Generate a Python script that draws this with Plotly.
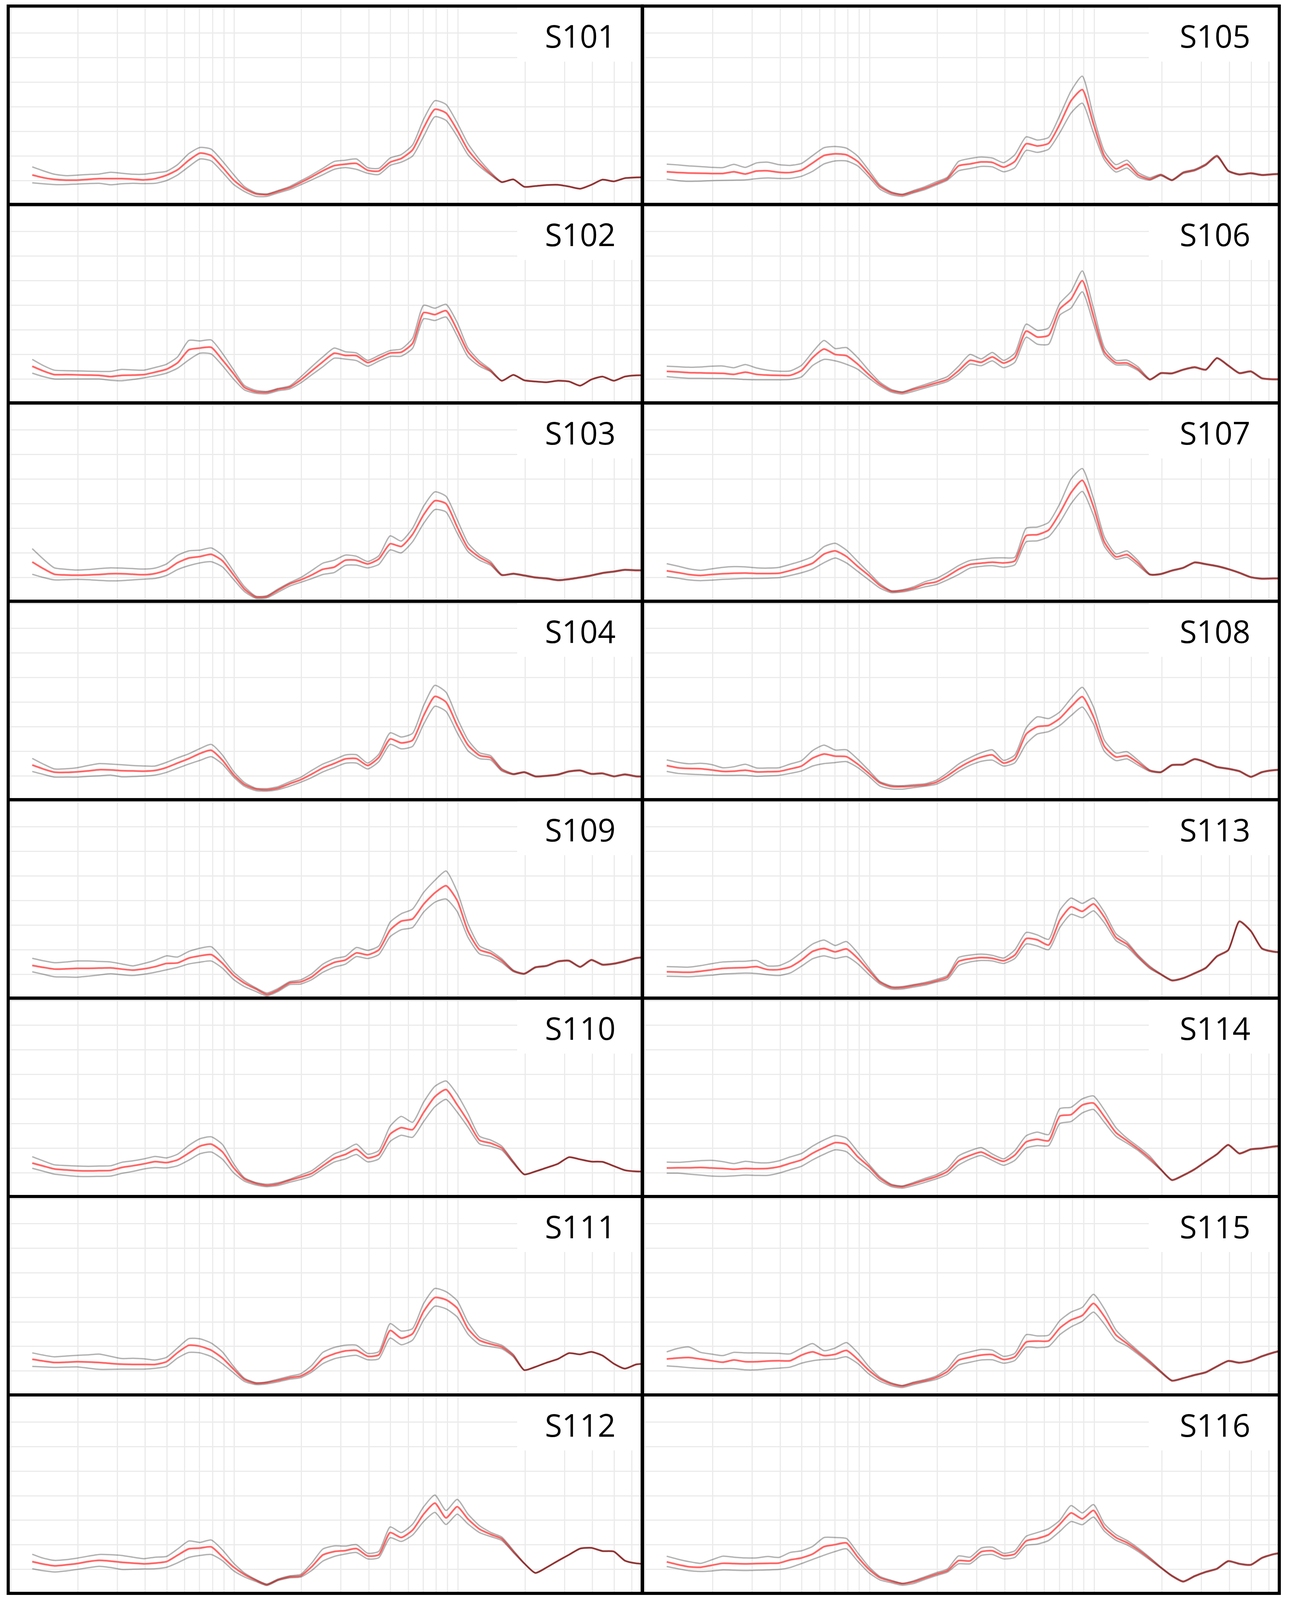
import plotly.graph_objects as go

# ---------------- data ----------------
FREQ_HZ = [1.25, 1.40, 1.57, 1.77, 1.98, 2.22, 2.49, 2.80, 3.14, 3.52,
           3.95, 4.43, 4.98, 5.58, 6.27, 7.03, 7.89, 8.85, 9.93, 11.1,
           12.5, 14.0, 15.7, 17.7, 19.8, 22.2, 24.9, 28.0, 31.4, 35.2,
           39.5, 44.3, 49.8, 55.8, 62.7, 70.3, 78.9, 88.5, 99.3, 111,
           125, 140, 157, 177, 198, 222, 249, 280, 314, 352,
           395, 443, 498, 558, 627, 703]

LEFT_COLUMN = ["S101", "S102", "S103", "S104", "S109", "S110", "S111", "S112"]
RIGHT_COLUMN = ["S105", "S106", "S107", "S108", "S113", "S114", "S115", "S116"]

S101_MEAN = [12.3, 11.2, 10.5, 10.2, 10.2, 10.5, 10.8, 10.8, 10.8, 10.6,
             10.3, 10.8, 12.2, 14.4, 18.3, 21.2, 20.2, 15.5, 10.3, 6.8,
             4.6, 4.3, 5.6, 7.1, 9.2, 11.5, 14.0, 16.1, 16.7, 17.0,
             14.2, 13.9, 17.5, 19.0, 22.5, 31.5, 39.0, 37.5, 30.5, 22.5,
             17.0, 12.8, 9.4, 10.5, 7.5, 7.8, 8.2, 8.3, 7.6, 6.7,
             8.3, 10.4, 9.7, 11.0, 11.3, 11.4]
S101_UPPER = [15.6, 14.0, 12.6, 12.0, 12.2, 12.5, 12.7, 13.4, 13.0, 12.6,
              12.6, 13.2, 13.8, 16.5, 21.0, 23.5, 22.8, 18.0, 12.5, 7.6,
              5.0, 4.6, 6.0, 7.6, 9.9, 12.3, 15.0, 17.8, 18.3, 18.8,
              15.3, 15.0, 19.2, 20.6, 24.5, 35.0, 42.5, 41.0, 33.5, 25.0,
              18.5, 13.5, 9.5, 10.6, 7.6, 7.9, 8.3, 8.4, 7.7, 6.8,
              8.4, 10.5, 9.8, 11.1, 11.4, 11.5]
S101_LOWER = [9.1, 8.7, 8.4, 8.4, 8.6, 8.8, 8.9, 8.3, 8.7, 8.9,
              8.8, 8.9, 10.0, 12.3, 15.7, 18.8, 18.0, 13.5, 8.5, 5.6,
              3.6, 3.6, 5.0, 6.4, 8.3, 10.3, 12.4, 14.6, 15.3, 14.6,
              13.0, 12.5, 16.2, 17.5, 20.0, 28.0, 36.0, 34.5, 28.0, 20.5,
              15.8, 12.3, 9.3, 10.4, 7.4, 7.7, 8.1, 8.2, 7.5, 6.6,
              8.2, 10.3, 9.6, 10.9, 11.2, 11.3]

S102_MEAN = [15.2, 13.3, 11.8, 11.8, 11.7, 11.6, 11.5, 11.0, 11.5, 11.6,
             11.8, 12.8, 14.0, 16.6, 21.9, 22.6, 22.9, 17.8, 12.2, 6.6,
             4.8, 4.6, 5.8, 6.7, 9.6, 13.3, 17.0, 20.5, 19.6, 19.5,
             16.7, 18.5, 20.6, 20.9, 24.5, 37.0, 36.2, 37.8, 30.0, 21.0,
             16.3, 13.4, 9.3, 11.7, 9.5, 9.0, 8.7, 9.3, 9.0, 7.3,
             9.8, 11.0, 9.3, 11.0, 11.5, 11.5]
S102_UPPER = [18.0, 15.5, 13.6, 13.4, 13.3, 13.2, 13.1, 13.1, 13.9, 13.7,
              13.6, 14.7, 16.0, 19.0, 25.7, 25.5, 25.9, 20.5, 13.8, 7.4,
              5.4, 5.0, 6.2, 7.2, 10.8, 15.0, 19.0, 22.6, 21.1, 20.6,
              17.6, 19.6, 21.6, 22.2, 26.6, 40.0, 38.8, 40.4, 33.0, 22.6,
              17.3, 13.9, 9.4, 11.8, 9.6, 9.1, 8.8, 9.4, 9.1, 7.4,
              9.9, 11.1, 9.4, 11.1, 11.6, 11.6]
S102_LOWER = [12.4, 11.0, 10.0, 10.0, 10.0, 10.0, 10.0, 9.5, 9.3, 9.8,
              10.5, 11.3, 12.4, 14.4, 17.8, 20.5, 20.2, 15.5, 10.0, 5.6,
              4.2, 4.0, 5.2, 6.0, 8.4, 11.7, 15.0, 18.5, 18.1, 17.5,
              15.2, 17.3, 19.2, 19.3, 22.5, 34.5, 33.8, 35.2, 27.5, 19.0,
              15.2, 13.0, 9.2, 11.6, 9.4, 8.9, 8.6, 9.2, 8.9, 7.2,
              9.7, 10.9, 9.2, 10.9, 11.4, 11.4]

S103_MEAN = [16.3, 13.6, 11.3, 11.0, 10.9, 11.0, 11.2, 11.5, 11.5, 11.3,
             11.1, 11.6, 13.0, 16.0, 17.9, 18.5, 19.4, 16.8, 11.0, 5.3,
             2.0, 2.2, 4.8, 7.4, 9.0, 11.0, 13.3, 14.2, 17.0, 17.0,
             15.5, 17.5, 23.7, 22.6, 27.5, 35.5, 41.2, 40.0, 30.5, 22.0,
             18.2, 15.7, 11.0, 11.5, 10.8, 10.0, 9.6, 8.9, 9.3, 10.0,
             10.8, 11.8, 12.4, 13.1, 12.9, 12.9]
S103_UPPER = [21.7, 17.5, 13.9, 13.3, 13.0, 13.2, 13.6, 13.9, 13.8, 13.6,
              13.4, 13.8, 15.5, 19.0, 20.8, 21.1, 22.0, 19.0, 12.5, 6.3,
              2.4, 2.6, 5.3, 7.9, 9.9, 12.8, 15.8, 17.0, 19.1, 18.6,
              16.5, 18.8, 26.9, 24.8, 30.0, 39.0, 44.8, 43.0, 33.5, 24.0,
              19.2, 16.5, 11.2, 11.7, 11.0, 10.2, 9.8, 9.1, 9.5, 10.2,
              11.0, 12.0, 12.6, 13.3, 13.1, 13.1]
S103_LOWER = [11.3, 10.0, 9.0, 9.1, 9.2, 9.1, 8.8, 8.6, 8.7, 9.0,
              9.3, 9.6, 10.8, 13.2, 14.8, 15.9, 16.4, 14.3, 9.2, 4.3,
              1.5, 1.7, 4.0, 6.5, 8.0, 9.5, 11.2, 12.0, 14.9, 15.0,
              13.9, 15.3, 21.2, 20.0, 24.5, 32.0, 37.6, 36.6, 28.0, 20.5,
              17.0, 15.0, 10.8, 11.3, 10.6, 9.8, 9.4, 8.7, 9.1, 9.8,
              10.6, 11.6, 12.2, 12.9, 12.7, 12.7]

S104_MEAN = [14.4, 12.8, 11.5, 11.4, 11.6, 12.0, 12.5, 12.4, 12.1, 12.0,
             11.9, 12.2, 13.4, 15.2, 17.0, 19.1, 20.4, 16.4, 10.5, 6.5,
             4.6, 4.3, 5.0, 6.8, 8.4, 10.7, 13.2, 15.0, 16.9, 17.0,
             14.2, 17.5, 25.0, 23.4, 24.5, 34.5, 42.3, 40.0, 30.5, 22.5,
             18.3, 17.4, 12.5, 10.7, 11.5, 9.8, 10.0, 10.5, 11.8, 12.2,
             10.8, 11.0, 9.8, 10.6, 9.8, 9.8]
S104_UPPER = [17.1, 14.8, 12.8, 12.9, 13.3, 14.2, 15.0, 14.8, 14.5, 14.2,
              14.0, 14.0, 15.5, 17.3, 19.0, 21.1, 22.8, 18.5, 11.8, 7.3,
              5.0, 4.8, 5.6, 7.6, 9.4, 12.2, 14.8, 16.6, 18.5, 18.6,
              15.2, 18.8, 27.5, 25.8, 27.3, 38.6, 46.8, 44.0, 33.5, 24.6,
              19.4, 18.2, 13.0, 10.9, 11.7, 10.0, 10.2, 10.7, 12.0, 12.4,
              11.0, 11.2, 10.0, 10.8, 10.0, 10.0]
S104_LOWER = [11.8, 10.6, 9.5, 9.5, 9.5, 9.8, 10.0, 10.3, 9.6, 9.7,
              9.9, 10.3, 11.4, 13.1, 14.8, 16.3, 17.8, 14.8, 9.6, 5.8,
              4.0, 3.8, 4.4, 5.8, 7.4, 9.3, 11.6, 13.4, 15.1, 15.2,
              12.8, 15.8, 22.8, 21.0, 22.0, 31.0, 38.3, 36.2, 27.5, 20.2,
              17.0, 16.5, 12.0, 10.5, 11.3, 9.6, 9.8, 10.3, 11.6, 12.0,
              10.6, 10.8, 9.6, 10.4, 9.6, 9.6]

S109_MEAN = [13.6, 12.8, 12.1, 12.2, 12.4, 12.4, 12.5, 12.6, 12.1, 11.7,
             12.2, 13.1, 14.4, 14.6, 16.6, 17.5, 18.0, 14.5, 9.6, 6.4,
             4.0, 1.8, 3.6, 6.5, 6.9, 8.9, 12.5, 14.8, 15.8, 18.7,
             17.9, 19.9, 28.0, 31.6, 32.5, 38.5, 43.1, 46.0, 40.0, 27.5,
             20.0, 18.5, 15.6, 11.4, 10.2, 12.8, 13.4, 15.2, 15.5, 13.0,
             15.8, 13.9, 14.3, 15.3, 16.6, 16.9]
S109_UPPER = [16.5, 15.5, 14.7, 15.0, 15.4, 15.4, 15.2, 15.0, 14.2, 13.4,
              14.4, 15.7, 17.5, 17.0, 19.3, 20.6, 21.2, 16.6, 10.9, 7.3,
              4.5, 2.4, 4.2, 7.0, 7.7, 10.2, 14.1, 16.4, 17.3, 20.9,
              19.7, 21.5, 31.2, 34.6, 36.5, 43.3, 48.2, 52.0, 43.6, 30.5,
              21.5, 19.5, 16.3, 11.7, 10.4, 13.0, 13.6, 15.4, 15.7, 13.2,
              16.0, 14.1, 14.5, 15.5, 16.8, 17.1]
S109_LOWER = [11.0, 10.0, 9.0, 8.9, 8.8, 9.2, 9.7, 10.2, 9.8, 9.5,
              10.0, 10.8, 11.8, 12.8, 14.2, 14.9, 15.4, 12.5, 7.9, 5.0,
              3.0, 1.2, 3.0, 5.8, 6.0, 7.8, 10.8, 12.9, 14.1, 17.2,
              16.4, 18.0, 25.3, 28.1, 29.0, 35.3, 39.3, 40.6, 35.5, 25.0,
              18.3, 17.2, 14.8, 11.1, 10.0, 12.6, 13.2, 15.0, 15.3, 12.8,
              15.6, 13.7, 14.1, 15.1, 16.4, 16.7]

S110_MEAN = [13.9, 12.7, 11.5, 11.1, 10.8, 10.7, 10.8, 10.9, 12.1, 12.8,
             13.6, 14.5, 14.1, 15.2, 18.0, 20.8, 21.6, 18.5, 12.0, 7.5,
             5.6, 4.8, 5.4, 6.9, 8.2, 9.7, 12.8, 15.9, 17.4, 19.5,
             16.0, 17.4, 25.7, 28.3, 27.5, 34.5, 40.9, 43.8, 37.6, 30.9,
             23.2, 22.0, 20.0, 14.2, 9.3, 10.5, 12.0, 13.6, 16.3, 15.4,
             14.5, 14.4, 12.7, 11.0, 10.5, 10.5]
S110_UPPER = [16.5, 14.8, 13.2, 12.9, 12.7, 12.6, 12.7, 12.8, 14.2, 14.8,
              15.6, 16.6, 16.0, 17.5, 21.1, 23.8, 24.6, 21.5, 13.7, 8.0,
              6.0, 5.3, 5.9, 7.3, 9.0, 10.8, 14.2, 17.6, 19.3, 21.6,
              17.5, 19.0, 28.9, 32.9, 30.5, 38.7, 45.1, 47.3, 41.8, 34.0,
              24.8, 23.3, 20.8, 14.6, 9.4, 10.6, 12.1, 13.7, 16.4, 15.5,
              14.6, 14.5, 12.8, 11.1, 10.6, 10.6]
S110_LOWER = [11.8, 10.6, 9.4, 8.9, 8.5, 8.4, 8.5, 8.6, 9.7, 10.5,
              11.5, 12.1, 11.9, 12.8, 15.1, 17.7, 18.4, 15.5, 10.0, 6.6,
              5.0, 4.3, 4.8, 6.1, 7.2, 8.6, 11.6, 14.3, 15.6, 17.4,
              14.4, 15.6, 22.7, 25.2, 24.4, 30.8, 36.8, 39.8, 34.6, 28.5,
              21.7, 20.7, 19.2, 13.8, 9.2, 10.4, 11.9, 13.5, 16.2, 15.3,
              14.4, 14.3, 12.6, 10.9, 10.4, 10.4]

S111_MEAN = [14.8, 14.1, 13.5, 13.6, 13.8, 13.7, 13.5, 13.1, 12.8, 12.7,
             12.7, 12.7, 13.8, 17.5, 20.5, 20.1, 18.5, 15.3, 10.8, 6.6,
             5.0, 5.3, 6.2, 7.3, 8.0, 10.5, 15.0, 17.0, 18.2, 18.4,
             16.0, 16.6, 26.5, 23.4, 25.2, 34.3, 39.9, 39.0, 35.6, 27.2,
             22.5, 21.0, 19.8, 16.3, 10.4, 11.7, 13.4, 14.9, 17.3, 16.8,
             17.8, 16.3, 13.0, 11.0, 12.7, 13.0]
S111_UPPER = [17.4, 16.5, 15.8, 16.1, 16.4, 16.6, 16.9, 16.0, 15.1, 15.2,
              15.0, 14.5, 15.6, 19.4, 23.2, 23.1, 21.4, 17.8, 11.9, 7.1,
              5.3, 5.6, 6.7, 7.9, 8.9, 12.3, 17.6, 19.6, 20.5, 20.5,
              17.2, 17.9, 29.3, 26.3, 27.3, 37.5, 43.6, 42.3, 38.6, 29.8,
              23.7, 21.9, 20.5, 16.8, 10.5, 11.8, 13.5, 15.0, 17.4, 16.9,
              17.9, 16.4, 13.1, 11.1, 12.8, 13.1]
S111_LOWER = [11.9, 11.7, 11.5, 11.6, 11.7, 11.2, 10.7, 10.7, 10.8, 10.8,
              10.8, 11.1, 11.9, 15.3, 17.6, 17.4, 15.9, 13.0, 9.3, 5.8,
              4.5, 4.8, 5.6, 6.7, 7.3, 9.6, 13.0, 15.0, 15.9, 16.4,
              14.6, 15.0, 23.4, 20.7, 22.6, 30.8, 36.4, 35.3, 32.0, 25.0,
              20.8, 19.9, 19.1, 15.8, 10.3, 11.6, 13.3, 14.8, 17.2, 16.7,
              17.7, 16.2, 12.9, 10.9, 12.6, 12.9]

S112_MEAN = [13.2, 12.2, 11.5, 11.9, 12.4, 13.2, 13.7, 13.4, 12.9, 12.6,
             12.3, 12.6, 13.2, 15.8, 18.4, 18.7, 19.2, 15.2, 11.0, 8.0,
             5.6, 3.8, 5.8, 7.0, 7.4, 11.1, 15.9, 17.3, 17.7, 18.5,
             15.5, 16.0, 25.0, 23.0, 26.0, 32.5, 37.0, 31.0, 35.5, 30.5,
             26.4, 24.3, 22.5, 17.3, 12.5, 8.6, 10.8, 13.5, 16.0, 18.5,
             18.8, 17.5, 17.3, 13.6, 12.5, 12.2]
S112_UPPER = [16.2, 14.6, 13.7, 14.0, 14.6, 15.4, 16.1, 16.0, 15.7, 15.0,
              14.4, 15.0, 15.3, 18.3, 21.6, 21.0, 22.0, 18.0, 12.6, 8.6,
              5.9, 4.1, 6.1, 7.4, 8.0, 12.6, 18.3, 19.6, 19.5, 20.1,
              16.6, 17.4, 27.3, 25.0, 28.4, 35.5, 40.3, 34.0, 38.5, 32.5,
              27.8, 25.1, 23.2, 17.8, 12.6, 8.7, 10.9, 13.6, 16.1, 18.6,
              18.9, 17.6, 17.4, 13.7, 12.6, 12.3]
S112_LOWER = [10.3, 9.5, 9.0, 9.4, 10.0, 10.7, 11.3, 10.8, 10.0, 10.1,
              10.2, 10.3, 10.9, 12.7, 14.9, 15.7, 16.1, 13.6, 9.5, 7.0,
              5.1, 3.5, 5.5, 6.6, 6.9, 9.6, 13.4, 15.3, 16.3, 16.9,
              14.3, 14.8, 22.9, 21.4, 24.0, 29.5, 33.2, 28.3, 32.5, 28.5,
              25.0, 23.4, 21.8, 16.9, 12.4, 8.5, 10.7, 13.4, 15.9, 18.4,
              18.7, 17.4, 17.2, 13.5, 12.4, 12.1]

S105_MEAN = [13.6, 13.3, 13.1, 13.0, 12.9, 12.9, 13.6, 12.7, 13.9, 14.0,
             13.4, 13.3, 14.3, 17.2, 20.2, 20.9, 20.5, 17.8, 12.8, 7.6,
             5.0, 4.2, 5.5, 7.0, 8.8, 10.8, 16.0, 16.8, 17.6, 17.4,
             15.5, 17.8, 25.0, 24.1, 25.2, 33.0, 42.5, 47.0, 33.0, 20.0,
             14.8, 16.7, 12.3, 10.6, 12.3, 10.2, 13.2, 14.3, 16.5, 20.0,
             14.0, 12.5, 13.0, 12.3, 12.6, 12.8]
S105_UPPER = [16.7, 16.4, 16.0, 15.7, 15.4, 15.3, 16.6, 15.4, 17.2, 17.5,
              16.5, 16.2, 17.0, 20.2, 23.4, 23.9, 23.2, 20.0, 14.2, 8.3,
              5.4, 4.5, 6.0, 7.6, 9.5, 11.4, 17.8, 19.0, 19.6, 19.2,
              17.3, 20.5, 27.8, 26.5, 27.6, 36.5, 46.5, 52.5, 36.0, 22.0,
              16.5, 18.3, 13.3, 11.2, 12.6, 10.4, 13.5, 14.6, 16.8, 20.3,
              14.2, 12.7, 13.2, 12.5, 12.8, 13.0]
S105_LOWER = [10.6, 10.0, 9.7, 9.8, 10.0, 10.1, 10.2, 10.3, 10.8, 11.1,
              10.9, 10.9, 11.8, 13.8, 16.8, 18.0, 18.0, 16.0, 11.5, 6.6,
              4.3, 3.6, 5.0, 6.4, 8.2, 10.2, 14.0, 14.9, 15.8, 15.6,
              13.6, 15.2, 22.3, 21.5, 22.8, 29.5, 37.5, 41.5, 29.5, 18.5,
              13.5, 15.1, 11.4, 10.2, 12.0, 10.0, 12.9, 14.0, 16.2, 19.7,
              13.8, 12.3, 12.8, 12.1, 12.4, 12.6]

S106_MEAN = [13.1, 12.9, 12.6, 12.5, 12.4, 12.3, 11.9, 12.8, 11.9, 11.6,
             11.5, 11.5, 13.5, 18.7, 22.2, 20.0, 19.5, 16.1, 11.8, 8.0,
             5.3, 4.5, 5.8, 7.1, 8.4, 9.8, 13.4, 17.6, 16.8, 19.0,
             16.5, 18.8, 29.5, 27.1, 27.8, 38.5, 42.5, 50.0, 35.5, 21.1,
             16.6, 16.5, 14.0, 9.8, 12.4, 12.3, 13.8, 14.8, 13.8, 18.5,
             15.5, 12.4, 13.1, 10.3, 9.9, 10.0]
S106_UPPER = [15.2, 15.0, 14.8, 14.9, 15.2, 15.3, 14.6, 15.9, 14.5, 13.6,
              13.2, 13.3, 15.6, 21.0, 25.7, 22.4, 22.8, 18.7, 13.4, 8.8,
              5.8, 4.8, 6.3, 7.8, 9.3, 11.0, 15.2, 20.0, 18.2, 20.8,
              17.6, 20.5, 32.3, 29.8, 30.8, 40.8, 45.6, 54.0, 38.8, 22.8,
              17.6, 17.7, 14.9, 10.0, 12.6, 12.5, 14.0, 15.0, 14.0, 18.7,
              15.7, 12.6, 13.3, 10.5, 10.1, 10.2]
S106_LOWER = [11.0, 10.6, 10.3, 10.3, 10.2, 10.2, 10.1, 9.8, 9.7, 9.7,
              9.7, 9.8, 10.9, 15.5, 18.0, 17.4, 16.0, 14.0, 10.4, 7.2,
              4.7, 3.9, 5.0, 6.4, 7.6, 9.0, 12.0, 16.1, 15.4, 17.4,
              14.6, 16.8, 27.0, 24.2, 24.2, 36.0, 38.9, 45.5, 32.5, 19.8,
              15.8, 15.7, 13.4, 9.6, 12.2, 12.1, 13.6, 14.6, 13.6, 18.3,
              15.3, 12.2, 12.9, 10.1, 9.7, 9.8]

S107_MEAN = [12.7, 12.0, 11.2, 10.8, 11.2, 11.5, 11.7, 11.8, 11.6, 11.6,
             11.7, 12.8, 14.2, 15.8, 19.5, 20.8, 18.5, 14.5, 10.8, 6.8,
             4.3, 4.6, 5.6, 7.4, 8.2, 10.5, 13.3, 15.3, 15.8, 16.2,
             15.9, 16.7, 27.0, 27.4, 29.3, 36.2, 44.5, 49.5, 38.7, 24.4,
             18.4, 19.3, 15.8, 11.2, 11.4, 12.8, 13.9, 16.1, 15.4, 14.6,
             13.4, 11.9, 10.1, 9.5, 9.6, 9.6]
S107_UPPER = [15.6, 14.6, 13.5, 12.9, 13.5, 14.1, 14.4, 14.3, 13.9, 13.8,
              14.1, 15.3, 16.7, 18.5, 22.5, 23.9, 21.1, 16.5, 12.0, 7.5,
              4.6, 5.0, 6.2, 8.3, 9.6, 12.0, 14.8, 16.9, 17.5, 17.9,
              18.0, 18.2, 30.0, 30.5, 32.4, 40.0, 50.0, 54.3, 42.0, 26.5,
              19.6, 20.8, 16.8, 11.4, 11.6, 13.0, 14.1, 16.3, 15.6, 14.8,
              13.6, 12.1, 10.3, 9.7, 9.8, 9.8]
S107_LOWER = [10.3, 9.7, 9.0, 8.7, 8.9, 9.2, 9.4, 9.6, 9.6, 9.7,
              9.9, 10.8, 11.9, 13.4, 16.0, 17.9, 15.9, 12.5, 9.0, 5.7,
              3.8, 4.1, 5.0, 6.2, 7.1, 9.0, 11.2, 13.8, 14.5, 14.8,
              14.2, 15.1, 24.5, 24.9, 26.6, 32.4, 40.0, 45.0, 35.3, 22.7,
              17.4, 18.2, 14.8, 11.0, 11.2, 12.6, 13.7, 15.9, 15.2, 14.4,
              13.2, 11.7, 9.9, 9.3, 9.4, 9.4]

S108_MEAN = [14.2, 13.3, 13.0, 12.9, 12.4, 11.8, 11.9, 12.3, 11.6, 11.7,
             11.8, 12.8, 14.0, 17.2, 18.9, 18.0, 17.8, 14.8, 11.0, 7.2,
             5.7, 5.6, 5.9, 6.3, 7.4, 10.0, 13.2, 15.8, 17.6, 18.5,
             15.2, 17.0, 27.0, 30.0, 30.5, 33.4, 38.2, 42.2, 34.0, 22.0,
             17.7, 18.2, 15.3, 12.1, 11.5, 14.4, 14.6, 16.8, 15.5, 13.6,
             12.9, 11.9, 9.6, 11.5, 12.3, 12.5]
S108_UPPER = [16.5, 15.5, 14.9, 15.1, 14.6, 13.3, 13.7, 14.7, 13.2, 13.2,
              13.3, 14.8, 16.2, 20.3, 22.5, 20.5, 20.6, 16.8, 12.2, 7.7,
              6.2, 6.0, 6.4, 6.8, 8.2, 11.2, 14.8, 17.4, 19.4, 20.6,
              16.3, 18.5, 29.5, 34.0, 33.3, 36.0, 41.5, 46.0, 38.0, 24.5,
              19.3, 19.8, 16.3, 12.4, 11.7, 14.6, 14.8, 17.0, 15.7, 13.8,
              13.1, 12.1, 9.8, 11.7, 12.5, 12.7]
S108_LOWER = [11.8, 11.0, 10.7, 10.5, 10.3, 10.2, 10.2, 10.2, 9.8, 10.0,
              10.2, 11.0, 12.0, 14.0, 15.0, 15.4, 15.8, 13.4, 9.8, 5.9,
              4.7, 4.6, 5.2, 5.8, 6.6, 8.8, 11.8, 14.3, 15.9, 16.4,
              14.0, 15.3, 23.0, 27.0, 28.0, 30.5, 34.5, 38.0, 31.0, 20.0,
              16.2, 16.9, 14.3, 11.8, 11.3, 14.2, 14.4, 16.6, 15.3, 13.4,
              12.7, 11.7, 9.4, 11.3, 12.1, 12.3]

S113_MEAN = [11.0, 10.9, 10.8, 11.2, 11.8, 12.4, 12.6, 12.7, 13.1, 11.9,
             11.9, 13.0, 15.8, 19.3, 20.5, 19.1, 20.3, 16.5, 11.5, 6.8,
             4.6, 4.6, 5.4, 6.2, 7.3, 8.8, 15.2, 16.3, 16.8, 16.5,
             15.5, 17.8, 24.5, 24.0, 21.9, 32.0, 37.4, 35.6, 38.6, 33.2,
             25.0, 22.2, 17.2, 12.8, 10.0, 7.5, 8.4, 10.4, 12.6, 17.3,
             19.8, 31.5, 27.6, 20.5, 19.2, 18.9]
S113_UPPER = [13.1, 13.0, 12.9, 13.5, 14.3, 15.0, 15.2, 15.3, 15.6, 13.4,
              13.5, 15.5, 18.9, 22.3, 23.9, 21.7, 23.3, 18.7, 12.6, 7.3,
              5.0, 5.0, 5.8, 6.7, 7.9, 9.5, 16.8, 17.8, 18.2, 17.7,
              16.6, 19.9, 27.0, 26.0, 24.2, 36.0, 41.0, 38.8, 41.0, 35.2,
              26.5, 23.1, 17.8, 13.3, 10.2, 7.7, 8.6, 10.6, 12.8, 17.5,
              20.0, 31.7, 27.8, 20.7, 19.4, 19.1]
S113_LOWER = [9.2, 9.1, 9.0, 9.3, 9.6, 10.1, 10.3, 10.5, 10.3, 9.8,
              9.5, 10.5, 13.3, 16.3, 17.5, 16.4, 17.2, 14.3, 9.9, 6.1,
              4.0, 4.0, 4.8, 5.6, 6.8, 7.9, 13.5, 15.0, 15.6, 15.4,
              14.4, 16.4, 22.3, 21.5, 20.0, 29.0, 34.4, 33.0, 35.8, 30.9,
              23.7, 21.1, 16.6, 12.3, 9.8, 7.3, 8.2, 10.2, 12.4, 17.1,
              19.6, 31.3, 27.4, 20.3, 19.0, 18.7]

S114_MEAN = [11.9, 12.0, 12.0, 12.1, 11.9, 11.7, 11.4, 11.7, 11.6, 11.7,
             12.4, 13.8, 15.2, 17.9, 20.2, 22.2, 21.5, 16.5, 12.5, 7.8,
             4.9, 4.3, 5.5, 7.0, 8.4, 10.5, 14.9, 17.0, 18.4, 16.2,
             14.6, 17.1, 22.5, 23.6, 23.0, 33.0, 33.6, 37.5, 38.3, 32.8,
             26.3, 23.0, 19.7, 15.8, 11.3, 7.0, 8.9, 11.4, 14.5, 17.5,
             21.3, 17.8, 19.5, 19.9, 20.6, 21.0]
S114_UPPER = [14.3, 14.2, 14.5, 14.9, 15.0, 14.5, 13.7, 14.6, 14.1, 14.0,
              14.8, 16.4, 17.8, 20.8, 23.3, 25.1, 24.0, 18.6, 13.4, 8.5,
              5.3, 4.6, 6.0, 7.7, 9.2, 11.6, 16.8, 18.9, 20.2, 17.6,
              15.6, 18.9, 25.0, 26.5, 25.5, 36.0, 36.6, 40.0, 41.2, 35.5,
              28.3, 24.0, 20.6, 16.7, 11.5, 7.2, 9.1, 11.6, 14.7, 17.7,
              21.5, 18.0, 19.7, 20.1, 20.8, 21.2]
S114_LOWER = [9.8, 9.8, 9.4, 9.0, 8.6, 8.5, 8.7, 9.0, 8.9, 8.9,
              9.8, 11.2, 12.6, 15.2, 17.5, 19.3, 18.5, 14.4, 11.0, 6.8,
              4.3, 3.7, 4.7, 6.1, 7.5, 9.2, 13.1, 15.5, 17.0, 15.0,
              13.0, 15.0, 20.0, 21.0, 21.0, 30.0, 30.8, 34.3, 35.7, 30.5,
              24.8, 22.0, 19.0, 15.0, 11.1, 6.8, 8.7, 11.2, 14.3, 17.3,
              21.1, 17.6, 19.3, 19.7, 20.4, 20.8]

S115_MEAN = [14.9, 15.3, 15.5, 14.9, 14.2, 13.6, 14.5, 13.8, 13.8, 14.1,
             14.2, 14.2, 16.5, 17.8, 16.3, 16.8, 18.4, 14.8, 10.3, 6.9,
             4.8, 3.9, 5.1, 6.1, 7.4, 9.8, 14.4, 15.6, 16.5, 16.7,
             14.7, 15.8, 21.8, 22.2, 22.3, 27.5, 30.8, 32.6, 37.5, 32.2,
             24.7, 21.2, 17.5, 13.6, 9.7, 6.1, 7.1, 8.4, 9.5, 11.9,
             14.1, 13.4, 14.2, 16.0, 17.5, 18.6]
S115_UPPER = [17.8, 19.2, 19.8, 17.6, 16.9, 16.3, 17.6, 17.4, 17.4, 17.3,
              17.2, 17.0, 19.3, 21.2, 18.3, 19.4, 21.6, 17.5, 11.8, 7.5,
              5.2, 4.2, 5.5, 6.6, 8.0, 11.0, 16.5, 17.8, 18.8, 18.5,
              16.0, 17.2, 24.8, 24.3, 24.6, 30.5, 34.0, 35.9, 41.2, 35.3,
              26.7, 22.2, 18.2, 14.2, 10.0, 6.3, 7.3, 8.6, 9.7, 12.1,
              14.3, 13.6, 14.4, 16.2, 17.7, 18.8]
S115_LOWER = [12.1, 11.8, 11.4, 11.1, 11.0, 11.0, 11.0, 10.5, 10.5, 10.9,
              11.2, 11.6, 13.2, 14.2, 14.7, 14.9, 15.8, 13.1, 8.8, 5.9,
              4.1, 3.3, 4.5, 5.6, 6.6, 8.7, 12.5, 13.6, 14.5, 14.6,
              13.2, 14.3, 19.7, 19.5, 20.0, 24.8, 28.0, 30.2, 34.0, 29.1,
              22.6, 20.2, 16.8, 13.0, 9.4, 5.9, 6.9, 8.2, 9.3, 11.7,
              13.9, 13.2, 14.0, 15.8, 17.3, 18.4]

S116_MEAN = [13.1, 12.0, 11.1, 10.9, 11.7, 12.5, 12.4, 12.3, 12.4, 12.5,
             12.6, 13.9, 14.7, 16.3, 19.3, 20.1, 20.8, 15.1, 10.1, 6.7,
             5.2, 4.2, 5.0, 6.6, 8.1, 9.5, 13.6, 13.5, 17.2, 17.6,
             15.6, 16.3, 21.6, 22.6, 24.2, 28.4, 33.0, 30.6, 34.0, 27.0,
             23.0, 20.9, 18.0, 14.4, 10.8, 7.4, 5.1, 7.3, 9.0, 10.3,
             13.4, 12.3, 11.9, 14.7, 16.2, 17.0]
S116_UPPER = [15.4, 14.2, 13.2, 12.5, 13.9, 15.4, 15.0, 14.7, 14.7, 15.3,
              14.9, 16.9, 17.6, 19.4, 23.0, 23.0, 22.6, 16.8, 11.1, 7.2,
              5.6, 4.4, 5.4, 7.1, 8.7, 10.2, 15.5, 15.0, 18.7, 19.1,
              16.6, 17.6, 23.5, 25.0, 26.6, 30.0, 36.0, 33.0, 36.4, 28.6,
              24.2, 21.8, 18.7, 14.9, 11.0, 7.6, 5.3, 7.5, 9.2, 10.5,
              13.6, 12.5, 12.1, 14.9, 16.4, 17.2]
S116_LOWER = [11.2, 10.3, 9.5, 9.2, 9.4, 9.8, 9.7, 9.6, 9.7, 9.8,
              10.0, 10.8, 12.4, 14.1, 15.8, 17.3, 18.4, 13.4, 8.7, 5.8,
              4.6, 3.6, 4.3, 6.0, 7.5, 8.9, 12.3, 12.3, 15.7, 16.1,
              14.3, 14.9, 19.8, 20.3, 21.8, 25.5, 29.5, 28.2, 31.3, 25.6,
              21.9, 20.0, 17.3, 13.9, 10.6, 7.2, 4.9, 7.1, 8.8, 10.1,
              13.2, 12.1, 11.7, 14.5, 16.0, 16.8]

SERIES = {
    "S101": (S101_MEAN, S101_UPPER, S101_LOWER),
    "S102": (S102_MEAN, S102_UPPER, S102_LOWER),
    "S103": (S103_MEAN, S103_UPPER, S103_LOWER),
    "S104": (S104_MEAN, S104_UPPER, S104_LOWER),
    "S105": (S105_MEAN, S105_UPPER, S105_LOWER),
    "S106": (S106_MEAN, S106_UPPER, S106_LOWER),
    "S107": (S107_MEAN, S107_UPPER, S107_LOWER),
    "S108": (S108_MEAN, S108_UPPER, S108_LOWER),
    "S109": (S109_MEAN, S109_UPPER, S109_LOWER),
    "S110": (S110_MEAN, S110_UPPER, S110_LOWER),
    "S111": (S111_MEAN, S111_UPPER, S111_LOWER),
    "S112": (S112_MEAN, S112_UPPER, S112_LOWER),
    "S113": (S113_MEAN, S113_UPPER, S113_LOWER),
    "S114": (S114_MEAN, S114_UPPER, S114_LOWER),
    "S115": (S115_MEAN, S115_UPPER, S115_LOWER),
    "S116": (S116_MEAN, S116_UPPER, S116_LOWER),
}

for _name, _arrs in SERIES.items():
    for _a in _arrs:
        assert len(_a) == len(FREQ_HZ), (_name, len(_a))

# ---------------- figure geometry / style ----------------
# positions are expressed in the reference's 3305x5274 pixel frame and
# converted to paper fractions, so the grid fills whatever window it gets
W, H = 3305, 5274
COLS = [(21, 1644), (1645, 3275)]
ROW_TOP, ROW_H = 20, 654
GRID = "#ebebeb"
RED = "#ff6666"
GRAY = "rgba(0,0,0,0.30)"

fig = go.Figure()
layout = dict(autosize=True, margin=dict(l=0, r=0, t=0, b=0, pad=0),
              paper_bgcolor="white", plot_bgcolor="white",
              showlegend=False, hovermode=False)
shapes, annotations = [], []

n = 0
for c, names in enumerate([LEFT_COLUMN, RIGHT_COLUMN]):
    x0, x1 = COLS[c]
    for r, name in enumerate(names):
        n += 1
        top = ROW_TOP + ROW_H * r
        bot = top + ROW_H
        xs = "" if n == 1 else str(n)
        layout["xaxis" + xs] = dict(
            type="log", range=[-0.0105, 2.824], domain=[x0 / W, x1 / W],
            anchor="y" + xs, dtick="D1", showticklabels=False, ticks="",
            showgrid=True, gridcolor=GRID, gridwidth=3, zeroline=False,
            showline=False, fixedrange=True)
        layout["yaxis" + xs] = dict(
            range=[0.3, 81.0], domain=[1 - bot / H, 1 - top / H],
            anchor="x" + xs, dtick=10, tick0=0, showticklabels=False,
            ticks="", showgrid=True, gridcolor=GRID, gridwidth=3,
            zeroline=False, showline=False, fixedrange=True)
        mean, upper, lower = SERIES[name]
        fig.add_trace(go.Scatter(x=FREQ_HZ, y=mean, mode="lines",
                                 line=dict(color=RED, width=4.5, shape="spline", smoothing=0.6),
                                 xaxis="x" + xs, yaxis="y" + xs))
        for arr in (upper, lower):
            fig.add_trace(go.Scatter(x=FREQ_HZ, y=arr, mode="lines",
                                     line=dict(color=GRAY, width=3.5, shape="spline", smoothing=0.6),
                                     xaxis="x" + xs, yaxis="y" + xs))
        box_w = 320 if c == 0 else 334
        shapes.append(dict(type="rect", xref="paper", yref="paper",
                           x0=(x1 - box_w) / W, x1=(x1 - 4) / W,
                           y0=1 - (top + 183) / H, y1=1 - (top + 4) / H,
                           fillcolor="white", line=dict(width=0), layer="above"))
        annotations.append(dict(text=name, xref="paper", yref="paper",
                                x=(x1 - (66 if c == 0 else 72)) / W,
                                y=1 - (top + 97) / H,
                                xanchor="right", yanchor="middle", showarrow=False,
                                font=dict(family="Open Sans", size=80, color="black")))

for c, names in enumerate([LEFT_COLUMN, RIGHT_COLUMN]):
    x0, x1 = COLS[c]
    for r, name in enumerate(names):
        top = ROW_TOP + ROW_H * r
        bot = top + ROW_H
        shapes.append(dict(type="rect", xref="paper", yref="paper",
                           x0=x0 / W, x1=x1 / W, y0=1 - bot / H, y1=1 - top / H,
                           fillcolor="rgba(0,0,0,0)",
                           line=dict(color="black", width=8), layer="above"))

layout["shapes"] = shapes
layout["annotations"] = annotations
fig.update_layout(**layout)

POST = ("document.documentElement.style.margin='0';document.body.style.margin='0';"
        "document.body.style.overflow='hidden';"
        "var gd=document.getElementById('{plot_id}');"
        "gd.style.width='100vw';gd.style.height='100vh';"
        "Plotly.Plots.resize(gd);")

fig.write_html("out.html", config={"displayModeBar": False, "responsive": True},
               default_width="100vw", default_height="100vh", post_script=POST)
